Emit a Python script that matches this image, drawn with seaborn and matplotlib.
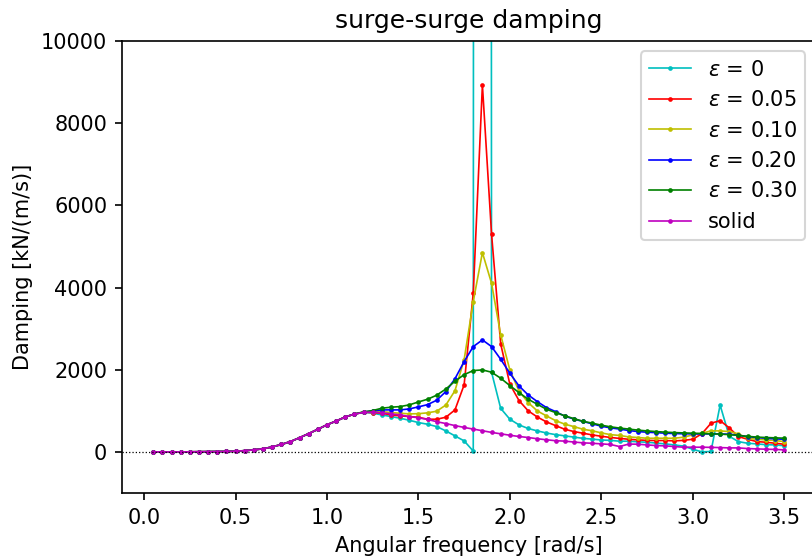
import matplotlib
matplotlib.use("Agg")
import matplotlib.pyplot as plt
import seaborn as sns
import numpy as np
import pandas as pd

# angular frequency grid (0.05 .. 3.50 rad/s)
omega = [round(0.05 * k, 2) for k in range(1, 71)]

# below ~1.15 rad/s all six curves lie on top of each other
low_part = [0, 0, 0, 0, 2, 4, 6, 8, 10, 16, 30, 50, 75, 120, 180, 250,
            345, 445, 550, 660, 750, 850, 920]

# 1.20 .. 3.50 rad/s
eps_000 = [965, 941, 900, 860, 819, 770, 714, 673, 616, 511, 389, 268, 20,
           500000, 1940, 1060, 795, 657, 570, 511, 460, 420, 390, 360, 330,
           310, 290, 280, 260, 260, 245, 235, 215, 195, 170, 140, 65, 0, 10,
           1140, 380, 250, 210, 195, 175, 170, 150]
eps_005 = [965, 957, 941, 900, 876, 860, 843, 795, 795, 843, 1022, 1630, 3860,
           8930, 5304, 2628, 1650, 1250, 1000, 850, 730, 640, 551, 495, 454,
           414, 380, 352, 328, 308, 292, 280, 276, 276, 268, 280, 308, 440,
           697, 760, 585, 373, 308, 251, 235, 211, 187]
eps_010 = [965, 981, 981, 957, 941, 925, 930, 950, 990, 1140, 1490, 2240, 3658,
           4850, 4104, 2847, 1995, 1484, 1200, 998, 876, 762, 675, 616, 551,
           515, 462, 420, 400, 365, 350, 332, 332, 332, 332, 357, 414, 454,
           511, 511, 495, 438, 332, 308, 292, 276, 251]
eps_020 = [965, 998, 1022, 1022, 1022, 1046, 1095, 1150, 1257, 1468, 1780,
           2198, 2563, 2725, 2563, 2254, 1914, 1606, 1387, 1225, 1079, 981,
           870, 800, 740, 685, 625, 585, 555, 520, 495, 479, 468, 455, 446,
           440, 438, 438, 438, 438, 430, 405, 373, 349, 332, 316, 308]
eps_030 = [975, 1006, 1063, 1087, 1103, 1144, 1215, 1281, 1380, 1530, 1720,
           1880, 1979, 1995, 1939, 1793, 1614, 1444, 1281, 1160, 1038, 957,
           880, 810, 745, 700, 650, 610, 580, 555, 530, 510, 495, 480, 470,
           462, 455, 448, 440, 432, 420, 400, 378, 360, 350, 342, 333]
solid = [960, 970, 950, 925, 900, 860, 830, 790, 735, 690, 640, 595, 555, 515,
         474, 440, 405, 375, 350, 320, 295, 272, 262, 240, 220, 210, 195, 180,
         130, 190, 187, 170, 154, 146, 130, 114, 114, 114, 110, 105, 97, 97,
         81, 73, 65, 60, 49]

labels = [r'$\varepsilon$ = 0', r'$\varepsilon$ = 0.05', r'$\varepsilon$ = 0.10',
          r'$\varepsilon$ = 0.20', r'$\varepsilon$ = 0.30', 'solid']
colors = ['c', 'r', 'y', 'b', 'g', 'm']
series = [eps_000, eps_005, eps_010, eps_020, eps_030, solid]

fig = plt.figure(figsize=(812 / 150, 559 / 150), dpi=150)
ax = fig.add_axes([0.1499, 0.1181, 0.8546, 0.8086])

for lab, col, tail in zip(labels, colors, series):
    df = pd.DataFrame({'omega': omega, 'damping': low_part + tail})
    sns.lineplot(data=df, x='omega', y='damping', color=col, label=lab,
                 marker='.', markersize=4.5, markeredgewidth=0,
                 linewidth=0.8, ax=ax)

ax.axhline(0, color='k', linestyle=':', linewidth=0.6)
ax.set_xlim(-0.1225, 3.6725)
ax.set_ylim(-1000, 10000)
ax.set_title('surge-surge damping')
ax.set_xlabel('Angular frequency [rad/s]')
ax.set_ylabel('Damping [kN/(m/s)]')
ax.legend(loc='upper right')

fig.savefig('out.png', dpi=150)
